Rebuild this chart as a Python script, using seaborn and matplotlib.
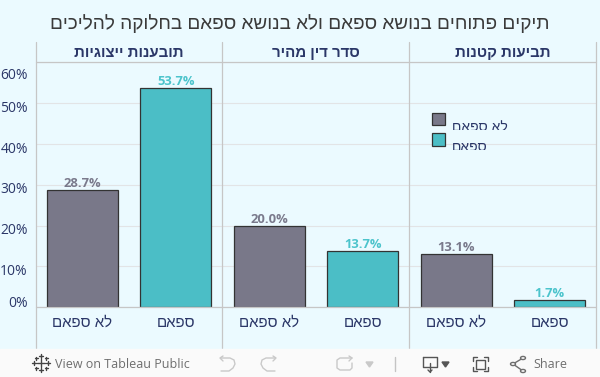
import numpy as np
import pandas as pd
import seaborn as sns
import matplotlib.pyplot as plt
from matplotlib.lines import Line2D
from matplotlib.patches import Patch, Rectangle
from matplotlib.transforms import Bbox, ScaledTranslation, IdentityTransform, TransformedBbox

# chart values
procedures = ['תובענות ייצוגיות', 'סדר דין מהיר', 'תביעות קטנות']
kinds = ['לא ספאם', 'ספאם']
not_spam = [28.7, 20.0, 13.1]
spam = [53.7, 13.7, 1.7]
y_ticks = [0, 10, 20, 30, 40, 50, 60]
title = 'תיקים פתוחים בנושא ספאם ולא בנושא ספאם בחלוקה להליכים'

BG = '#ebfaff'
GREY = '#797889'
TEAL = '#4bbec6'
NAVY = '#2b3768'
LINE = '#c6c6c6'
GRID = '#e2e4e6'
TOOL = '#6e6e6e'
W, H = 600, 377


# matplotlib does no bidi, so hebrew goes in visual order
def heb(s):
    return s[::-1]


# pixel position (from top left) to figure fraction
def fx(x):
    return x / W


def fy(y):
    return 1 - y / H


df = pd.DataFrame({
    'procedure': procedures * 2,
    'kind': [kinds[0]] * 3 + [kinds[1]] * 3,
    'pct': not_spam + spam,
})

sns.set_theme(style='white', rc={'axes.facecolor': BG, 'figure.facecolor': BG})
plt.rcParams['font.family'] = ['Liberation Sans', 'DejaVu Sans']

g = sns.FacetGrid(df, col='procedure', col_order=procedures, sharey=True, despine=False)
g.map_dataframe(sns.barplot, x='kind', y='pct', hue='kind', order=kinds, hue_order=kinds,
                palette=[GREY, TEAL], saturation=1, width=0.76, edgecolor='#333333', linewidth=0.9,
                dodge=False, errorbar=None)
fig = g.figure
fig.set_size_inches(W / 100, H / 100)
fig.set_dpi(100)
fig.subplots_adjust(left=fx(35.5), right=fx(596.5), top=fy(62), bottom=fy(307.3), wspace=0)

for ax, name in zip(g.axes.flat, procedures):
    ax.set_ylim(0, 60.1)
    ax.set_xlim(-0.5, 1.5)
    ax.set_xlabel('')
    ax.set_ylabel('')
    ax.set_title('')
    ax.set_axisbelow(True)
    ax.grid(axis='y', color=GRID, linewidth=0.8)
    ax.grid(axis='x', visible=False)
    for s in ax.spines.values():
        s.set_visible(False)
    ax.set_xticks([0, 1])
    ax.set_xticklabels([heb(k) for k in kinds], color=NAVY, fontsize=10.8)
    ax.tick_params(axis='x', length=0, pad=6)
    ax.tick_params(axis='y', length=0)
    for cont, col in zip(ax.containers, ['#7a7a8c', '#4cc4cc']):
        ax.bar_label(cont, fmt='%.1f%%', padding=0, color=col, fontsize=9.4,
                     fontweight='bold', fontfamily='Open Sans')
    ax.text(0.5, (307.3 - 53) / 245.3, heb(name), transform=ax.transAxes, ha='center',
            va='center', color=NAVY, fontsize=10.8, fontweight='bold', clip_on=False)

# y tick labels, tableau pushes the end ones inside the pane
ax0 = g.axes.flat[0]
ax0.set_yticks(y_ticks)
ax0.set_yticklabels(['%d%%' % t for t in y_ticks], color=NAVY, fontsize=10, fontfamily='Open Sans')
ax0.tick_params(axis='y', labelleft=True, pad=5.5, length=0)
for t, lab in zip(y_ticks, ax0.get_yticklabels()):
    shift = {0: 6, 60: -11}.get(t, -3)
    lab.set_transform(lab.get_transform() + ScaledTranslation(0, shift / 100, fig.dpi_scale_trans))
for ax in list(g.axes.flat)[1:]:
    ax.set_yticks(y_ticks)
    ax.tick_params(axis='y', labelleft=False)

# pane dividers and header lines
for x in [35.6, 222.2, 409.2, 596.3]:
    fig.add_artist(Line2D([fx(x), fx(x)], [fy(42), fy(348)], color=LINE, lw=0.9))
for y in [62, 307.3]:
    fig.add_artist(Line2D([fx(35.6), fx(596.3)], [fy(y), fy(y)], color=LINE, lw=0.9))

fig.text(0.5, fy(24), heb(title), ha='center', va='center', color='#3a3a3a', fontsize=13.7)

# legend in the last pane, its labels are cut off at the bottom like the original
handles = [Patch(facecolor=GREY, edgecolor='#333333', lw=0.9), Patch(facecolor=TEAL, edgecolor='#333333', lw=0.9)]
leg = g.axes.flat[2].legend(handles, [heb(k) for k in kinds], loc='upper left',
                            bbox_to_anchor=(fx(431.5), fy(113)), bbox_transform=fig.transFigure,
                            frameon=False, fontsize=10, handlelength=1.0, handleheight=1.0,
                            labelspacing=0.44, handletextpad=0.45, borderpad=0, borderaxespad=0,
                            labelcolor=NAVY)
for txt, bottom in zip(leg.get_texts(), [130, 150]):
    txt.set_position((0, -7))
    txt.set_clip_on(True)
    txt.set_clip_box(TransformedBbox(Bbox([[400, H - bottom], [600, H - bottom + 30]]), IdentityTransform()))

# tableau toolbar
fig.add_artist(Rectangle((0, 0), 1, fy(349), transform=fig.transFigure, color='#fafafa', zorder=5))


def tool_line(xs, ys, col=TOOL, lw=1.0):
    fig.add_artist(Line2D([fx(x) for x in xs], [fy(y) for y in ys], color=col, lw=lw, zorder=6))


for cx, cy, r in [(41, 363, 4), (34, 363, 2), (48, 363, 2), (41, 356, 2), (41, 370, 2), (36, 358, 1.5), (46, 358, 1.5), (36, 368, 1.5), (46, 368, 1.5)]:
    tool_line([cx - r, cx + r], [cy, cy], '#444444')
    tool_line([cx, cx], [cy - r, cy + r], '#444444')
fig.text(fx(55), fy(364), 'View on Tableau Public', color=TOOL, fontsize=9, fontfamily='Open Sans',
         va='center', zorder=6)
fig.text(fx(533), fy(364), 'Share', color=TOOL, fontsize=9, fontfamily='Open Sans', va='center', zorder=6)

soft = '#c9c9c9'
tool_line([221, 230, 234, 235, 233, 229, 221], [358, 358, 360, 364, 368, 371, 371], soft)
tool_line([223, 220, 223], [356, 358, 361], soft)
tool_line([275, 266, 262, 261, 263, 267, 275], [358, 358, 360, 364, 368, 371, 371], soft)
tool_line([273, 276, 273], [356, 358, 361], soft)
tool_line([352, 340, 337, 337, 340, 350, 352, 352], [358, 358, 360, 368, 370, 370, 368, 363], soft)
tool_line([349, 352, 349], [356, 358, 361], soft)
fig.add_artist(plt.Polygon([(fx(366), fy(362)), (fx(373), fy(362)), (fx(369.5), fy(367))], color=soft, zorder=6))
tool_line([395, 395], [357, 371], '#c4c4c4')
tool_line([423, 437, 437, 423, 423], [357, 357, 367, 367, 357], '#555555')
tool_line([430, 430], [363, 372], '#555555')
tool_line([428, 430, 432], [370, 372, 370], '#555555')
fig.add_artist(plt.Polygon([(fx(442), fy(362)), (fx(449), fy(362)), (fx(445.5), fy(367))], color='#555555', zorder=6))
for xs, ys in [([473, 473, 477], [361, 357, 357]), ([484, 488, 488], [357, 357, 361]),
               ([488, 488, 484], [367, 371, 371]), ([477, 473, 473], [371, 371, 367])]:
    tool_line(xs, ys, '#555555')
fig.add_artist(Rectangle((fx(476), fy(369)), 9 / W, 9 / H, transform=fig.transFigure, fill=False, ec='#555555', lw=1, zorder=6))
tool_line([513, 523], [364, 358], TOOL)
tool_line([513, 523], [364, 371], TOOL)
for cx, cy in [(513, 364), (523, 358), (523, 371)]:
    fig.add_artist(plt.Circle((fx(cx), fy(cy)), 2.5 / W, transform=fig.transFigure, fc='#fafafa', ec=TOOL, lw=1, zorder=7))

fig.savefig('out.png', dpi=100, facecolor=BG)
